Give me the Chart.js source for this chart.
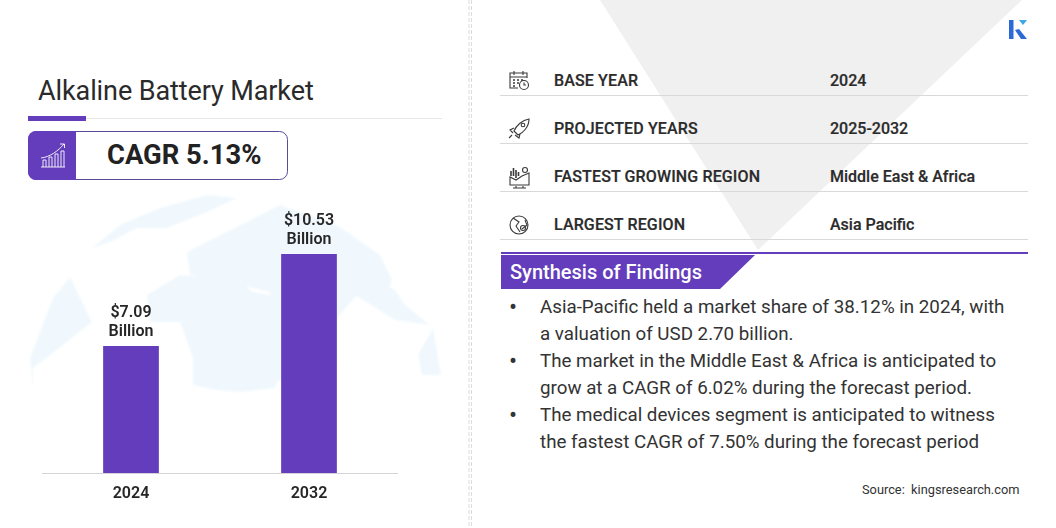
<!DOCTYPE html>
<html>
<head>
<meta charset="utf-8">
<title>Alkaline Battery Market</title>
<script src="https://cdn.jsdelivr.net/npm/chart.js@4"></script>
<style>
  html, body { margin: 0; padding: 0; background: #fff; }
  body { width: 1056px; height: 528px; position: relative; overflow: hidden; font-family: Roboto, sans-serif; color: #222; }
  .abs { position: absolute; white-space: nowrap; }
  #chartBox { position: absolute; left: 42px; top: 200px; width: 356px; height: 310px; }
  #deco { position: absolute; left: 0; top: 0; }
  .row { font-size: 16px; font-weight: 500; color: #2b2b2b; line-height: 20px; -webkit-text-stroke: 0.2px #2b2b2b; }
  .finding { font-size: 18.75px; color: #333; line-height: 27px; left: 540px; }
  .dot { font-size: 24px; color: #333; line-height: 27px; left: 509px; }
</style>
</head>
<body>
<svg id="deco" width="1056" height="528" xmlns="http://www.w3.org/2000/svg">
  <defs><filter id="soft"><feGaussianBlur stdDeviation="0.8"/></filter></defs>
  <!-- grey triangle behind the table -->
  <polygon points="600,0 1022,0 758,250" fill="#f0f0f0"/>
  <!-- faint globe -->
  <g fill="#f0f8fd" filter="url(#soft)">
    <path d="M30 358 L53 298 L70 277 L92 322 L63 345 L33 368 L33 392 Z"/>
    <path d="M92 248 L120 225 L160 208 L207 195 L237 198 L207 212 L167 228 L137 228 L110 242 Z"/>
    <path d="M187 252 L233 229 L280 205 L337 225 L380 255 L392 280 L387 295 L357 295 L337 318 L337 368 L300 345 L270 292 L240 285 L190 275 Z"/>
    <path d="M147 295 L180 275 L240 282 L253 292 L272 295 L300 335 L283 365 L277 382 L275 388 L240 392 L217 390 L193 385 L193 358 L180 322 L150 322 Z"/>
    <path d="M272 376 L282 366 L284 378 L274 384 Z"/>
    <path d="M340 270 L355 295 L395 320 L430 325 L405 305 L395 290 L365 275 Z"/>
    <path d="M433 328 L441 375 L422 375 L418 355 Z"/>
  </g>
  <!-- left column rule and CAGR box -->
  <rect x="28" y="118" width="414" height="1" fill="#e6e6e6"/>
  <rect x="28" y="116" width="58" height="5" fill="#633dbb"/>
  <rect x="28.5" y="131.5" width="259" height="48" rx="8" fill="#fff" stroke="#5a4a9a"/>
  <path d="M76 131 H36 a8 8 0 0 0 -8 8 V172 a8 8 0 0 0 8 8 H76 Z" fill="#633dbb"/>
  <g fill="none" stroke="#fff" stroke-width="0.9">
    <path d="M41 167 H65 M43 167 V160 H46 V167 M49 167 V157 H52 V167 M55 167 V154 H58 V167 M61 167 V151 H64 V167"/>
    <path d="M41 158 C50 157 58 151 64 144 M60 144 H64.5 V148"/>
  </g>
  <!-- centre divider -->
  <g stroke="#dcdcdc" stroke-width="1" stroke-dasharray="4 2">
    <line x1="469" y1="0" x2="469" y2="528"/>
    <line x1="471.5" y1="0" x2="471.5" y2="528"/>
  </g>
  <!-- logo -->
  <rect x="1009" y="20" width="4.5" height="19" fill="#2c6bd6"/>
  <polygon points="1015,30 1021,39 1027,39 1019,29" fill="#2c6bd6"/>
  <polygon points="1019,20 1027,20 1023,25" fill="#3fa4ea"/>
  <!-- table rules -->
  <g fill="#d9d9d9">
    <rect x="500" y="95" width="528" height="1"/>
    <rect x="500" y="143" width="528" height="1"/>
    <rect x="500" y="191" width="528" height="1"/>
    <rect x="500" y="239" width="528" height="1"/>
  </g>
  <!-- table icons -->
  <g fill="none" stroke="#3a3a3a" stroke-width="1.1">
    <path d="M518 88 H510 V73 H527 V78 M510 77 H527 M514 71 V75 M523 71 V75"/>
    <path d="M513 80 h2 M517 80 h2 M521 80 h2 M513 83 h2 M517 83 h2 M513 86 h2" stroke-width="1.6"/>
    <circle cx="524" cy="85" r="4.5"/><path d="M524 82.5 V85 H526"/>
    <path d="M529 119 C522 120 516 126 514 131 L518 135 C523 133 529 127 529 119 Z M514 128 L510 130 L513 133 M520 134 L519 138 L515 135 M512 135 L509 138"/>
    <circle cx="523" cy="125" r="1.8"/>
    <path d="M510 185 H529 V173 L522 176 L516 180 L510 177 Z M516 186 V188 M523 186 V188 M513 188 H526"/>
    <path d="M511 176 V171 M513.5 176 V168 M516 178 V170 M518.5 176 V172" stroke-width="1.6"/>
    <circle cx="525" cy="170" r="2.5"/>
    <circle cx="519" cy="225" r="9"/>
    <path d="M513 218 L519 222 L516 226 L520 232 M525 220 L527 225 L522 229"/>
    <circle cx="523" cy="228" r="2.5"/>
  </g>
  <!-- findings banner -->
  <rect x="501" y="252" width="527" height="2" fill="#633dbb"/>
  <polygon points="501,255 755,255 720,289 501,289" fill="#633dbb"/>
</svg>

<div class="abs" style="left:38px;top:75px;font-size:27px;line-height:32px;color:#2a2a2a;letter-spacing:-0.1px;">Alkaline Battery Market</div>
<div class="abs" style="left:107px;top:139px;font-size:27.4px;line-height:32px;font-weight:700;color:#222;">CAGR 5.13%</div>

<div id="chartBox"><canvas id="marketChart"></canvas></div>

<div id="tableRows"></div>

<div class="abs" style="left:510px;top:260px;font-size:20px;line-height:24px;font-weight:500;color:#fff;">Synthesis of Findings</div>
<div id="findings"></div>
<div class="abs" style="left:862px;top:482px;font-size:12.8px;line-height:15px;color:#333;">Source:&nbsp; kingsresearch.com</div>

<script>
const categories = ["2024", "2032"];
const marketValues = [7.09, 10.53];
const valueLabels = ["$7.09", "$10.53"];
const valueUnit = "Billion";

const tableLabels = ["BASE YEAR", "PROJECTED YEARS", "FASTEST GROWING REGION", "LARGEST REGION"];
const tableValues = ["2024", "2025-2032", "Middle East & Africa", "Asia Pacific"];
const findingLines = [
  "Asia-Pacific held a market share of 38.12% in 2024, with",
  "a valuation of USD 2.70 billion.",
  "The market in the Middle East & Africa is anticipated to",
  "grow at a CAGR of 6.02% during the forecast period.",
  "The medical devices segment is anticipated to witness",
  "the fastest CAGR of 7.50% during the forecast period"
];

document.addEventListener("DOMContentLoaded", function () {
  // table on the right
  const rows = document.getElementById("tableRows");
  tableLabels.forEach(function (label, i) {
    const top = 71 + i * 48;
    const a = document.createElement("div");
    a.className = "abs row";
    a.style.left = "554px";
    a.style.top = top + "px";
    a.style.letterSpacing = "0.13px";
    a.textContent = label;
    rows.appendChild(a);
    const b = document.createElement("div");
    b.className = "abs row";
    b.style.left = "830px";
    b.style.top = top + "px";
    b.textContent = tableValues[i];
    rows.appendChild(b);
  });

  // findings list, a bullet on every second line
  const findings = document.getElementById("findings");
  findingLines.forEach(function (line, i) {
    const top = 294 + i * 27;
    const t = document.createElement("div");
    t.className = "abs finding";
    t.style.top = top + "px";
    t.textContent = line;
    findings.appendChild(t);
    if (i % 2 === 0) {
      const d = document.createElement("div");
      d.className = "abs dot";
      d.style.top = top + "px";
      d.textContent = "•";
      findings.appendChild(d);
    }
  });

  // two line label above each bar
  const barLabels = {
    id: "barLabels",
    afterDatasetsDraw: function (chart) {
      const ctx = chart.ctx;
      ctx.save();
      ctx.fillStyle = "#262626";
      ctx.font = "600 16px Roboto";
      ctx.textAlign = "center";
      ctx.textBaseline = "alphabetic";
      chart.getDatasetMeta(0).data.forEach(function (bar, i) {
        ctx.fillText(valueLabels[i], bar.x, bar.y - 29);
        ctx.fillText(valueUnit, bar.x, bar.y - 10);
      });
      ctx.restore();
    },
  };

  new Chart(document.getElementById("marketChart"), {
    type: "bar",
    data: {
      labels: categories,
      datasets: [
        {
          data: marketValues,
          backgroundColor: "#633dbb",
          categoryPercentage: 1,
          barPercentage: 0.313,
        },
      ],
    },
    options: {
      responsive: true,
      maintainAspectRatio: false,
      animation: false,
      layout: { padding: 0 },
      plugins: { legend: { display: false }, tooltip: { enabled: false } },
      scales: {
        x: {
          grid: { display: false, drawTicks: false },
          border: { color: "#d4d4d8", width: 1 },
          ticks: { color: "#262626", font: { family: "Roboto", size: 16, weight: "600" }, padding: 11 },
          afterFit: function (axis) { axis.height = 37; },
        },
        y: {
          display: false,
          // axis does not start at zero, bar heights in the picture fit this range
          min: 2.34,
          max: 12.55,
        },
      },
    },
    plugins: [barLabels],
  });
});
</script>
</body>
</html>
